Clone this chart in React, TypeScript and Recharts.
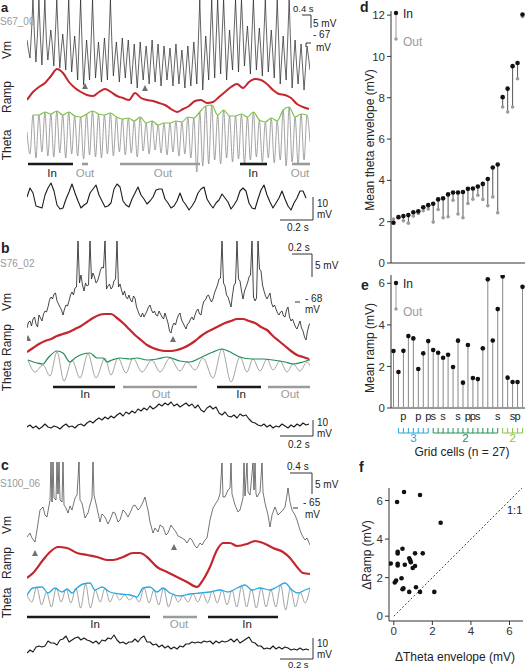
import React from 'react';
import { ComposedChart, ScatterChart, Line, Scatter, Bar, XAxis, YAxis, ReferenceLine } from 'recharts';

const FONT = '"Liberation Sans", Arial, Helvetica, sans-serif';

// ---------- Panel a (time in trace-samples, values in scaled mV) ----------
const vmA = [55,45,
  37,62,95,60, 33,60,95,58, 30,62,95,55, 35,50,65,50, 29,60,95,58,
  27,45,61,44, 25,58,95,55, 23,42,59,40, 15,55,95,50, 10,33,55,35,
  15,52,95,52, 17,36,53,34, 13,35,57,36, 15,55,95,52, 19,37,53,34,
  13,36,57,35, 17,37,55,32, 11,30,51,29, 7,31,53,33, 15,33,49,31,
  11,34,55,32, 13,32,51,30, 9,29,49,32, 15,31,47,29, 9,31,51,30,
  11,28,45,27, 7,29,49,28, 9,31,53,32, 11,52,95,48, 5,33,59,37,
  15,56,95,54, 17,56,95,58, 21,60,95,56, 15,41,65,44, 25,62,95,60,
  23,60,95,62, 29,50,69,46, 21,60,95,58, 25,47,67,45, 19,58,95,56,
  23,44,65,42, 17,56,95,54, 11,36,59,35, 15,54,95,50, 7,32,55,30,
  11,31,51,29, 5,27,49,38, 25];
const thetaA = [40,
  18,57, 14,57, 20,60, 16,58, 15,61, 19,57, 14,60, 18,56, 16,55, 13,58,
  17,61, 15,58, 14,57, 18,59, 16,55, 20,53, 17,54, 19,51, 15,55, 21,49,
  18,51, 22,47, 19,49, 17,49, 20,51, 16,50, 18,55, 14,54, 0,60, 6,66,
  8,67, 12,57, 8,62, 14,56, 10,56, 13,58, 8,55, 12,60, 15,52, 10,50,
  14,54, 9,51, 12,62, 6,65, 10,55, 8,58, 12,57, 30];
const envA = [57,57,60,58,61,57,60,56,55,58,61,58,57,59,55,53,54,51,55,49,51,47,49,49,51,
  50,55,54,60,66,67,57,62,56,56,58,55,60,52,50,54,51,62,65,55,58,57];
const rampA = [20,28,33,37,44,51,47,38,32,28,25,24,28,31,28,24,22,20,27,22,20,19,17,15,11,
  8,11,14,19,20,17,18,23,28,33,36,32,38,41,40,36,30,26,25,22,16,13,11];
const slowA = [17,26,21,8,7,6,19,26,31,23, 9,5,6,15,22,30,21,13,6,9,
  11,21,25,29,19,13,7,8,11,25, 30,27,13,9,7,15,21,27,19,15,
  10,13,17,24,25,25,15,11,6,8, 13,21,13,9,4,8,13,21,25,27,
  15,10,6,11,14,20,16,12,5,9, 14,23,26,23,11,6,5,15,24,29,
  19,12,6,11,16,23,15,8,4,11, 16,23,23,16];
const arrowsA = [[58, 9], [118, 7]];
const fieldsA: [string, number, number][] = [['In', 1, 46], ['Out', 55, 61], ['Out', 93, 173], ['In', 213, 240], ['Out', 265, 283]];

// ---------- Panel b ----------
const vmB = [17,23,24,19,26,28,21,18,30,27,24,31,34,33,38,45,48,46,51,52,
  44,41,38,35,30,36,40,39,44,50,53,50,57,58,104,62,70,60,54,62,
  59,60,104,66,72,68,62,64,69,75,78,77,104,56,59,61,56,58,64,66,
  104,58,61,55,50,54,48,46,50,45,43,49,47,38,34,30,28,32,28,31,
  34,38,40,35,32,34,30,29,34,31,28,26,32,27,22,14,12,19,22,20,
  26,30,32,25,22,19,16,21,22,26,28,25,30,34,36,31,30,39,44,45,
  49,50,46,43,46,52,56,60,66,67,104,62,59,50,48,43,38,50,60,62,
  104,66,64,54,46,54,58,62,68,70,104,48,44,47,104,76,74,60,54,49,
  46,49,52,42,38,40,36,32,30,33,34,29,28,35,38,28,24,26,22,18,
  16,20,24,17,14,8,5,14,20,22,27];
const rampB = [10,14,18,21,23,26,28,30,33,36,40,44,47,48,48,44,39,33,27,22,17,14,12,11,11,
  12,14,17,21,26,30,33,36,39,41,43,43,41,39,35,32,26,21,16,11,7,5,3];
const thetaB = [[1,25],[8,13],[16,20],[23,9],[30,33],[37,4],[45,25],[53,7],[61,31],[69,7],
  [78,27],[84,10],[91,27],[99,12],[106,27],[115,13],[125,25],[133,13],[143,27],[153,14],
  [160,23],[168,15],[176,27],[186,7],[195,36],[204,3],[213,28],[220,13],[226,26],[233,14],
  [240,26],[246,15],[253,24],[260,13],[266,21],[273,14],[280,23],[284,17]];
const envB = [[1,25],[10,22],[16,21],[21,27],[30,34],[36,32],[43,23],[48,27],[56,31],[63,32],
  [70,27],[76,27],[80,23],[85,25],[93,27],[103,26],[110,27],[120,25],[130,26],[140,28],
  [153,24],[163,23],[173,27],[186,33],[195,36],[205,32],[213,28],[225,26],[236,26],[246,25],
  [258,23],[266,21],[276,23],[285,26]];
const slowB = [5,7,4,6,3,5,8,5,4,6,5,3,6,8,5,6,4,7,
  8,6,9,11,9,12,14,12,15,13, 16,14,17,19,16,20,18,21,19,23,
  21,24,22,26,23,25,28,26,29,27, 30,26,28,25,27,29,26,28,24,27,
  22,20,24,26,23,25,19,17,20,16, 15,17,14,18,16,17,13,10,9,7,
  6,8,5,7,4,6,5,8,6,4, 7,5,8,6,9,7,8];
const arrowsB = [[1, 7], [146, 6]];
const fieldsB: [string, number, number][] = [['In', 26, 88], ['Out', 96, 170], ['In', 190, 234], ['Out', 241, 284]];

// ---------- Panel c ----------
const vmC = [[0,23],[3,27],[5,22],[8,18],[10,30],[13,50],[16,53],[18,45],[20,43],[23,60],
  [24,98],[25,58],[26,98],[27,62],[29,60],[30,98],[31,66],[32,98],[33,60],[35,58],
  [36,98],[37,55],[39,52],[41,47],[43,54],[45,50],[48,62],[50,65],[52,98],[53,60],
  [55,57],[58,42],[61,47],[63,55],[65,62],[66,98],[67,65],[70,52],[73,38],[75,46],
  [78,43],[81,36],[83,40],[86,48],[88,47],[91,38],[93,40],[96,50],[98,48],[101,43],
  [103,47],[106,54],[108,55],[111,50],[113,52],[116,58],[118,63],[120,54],[121,50],[123,38],
  [126,27],[128,32],[131,28],[133,35],[136,33],[139,25],[141,27],[144,35],[146,32],[149,28],
  [151,24],[155,22],[158,20],[160,17],[163,22],[165,20],[168,14],[170,12],[173,17],[175,15],
  [178,20],[180,22],[183,40],[186,52],[189,57],[191,60],[193,66],[195,97],[196,63],[198,63],
  [201,70],[203,72],[204,97],[205,66],[208,55],[211,48],[213,50],[216,62],[217,97],[218,64],
  [220,97],[221,68],[223,65],[226,97],[227,70],[228,97],[229,66],[230,63],[233,68],[235,97],
  [236,68],[238,57],[241,45],[243,33],[245,45],[248,53],[251,45],[253,47],[256,50],[258,53],
  [260,65],[261,72],[263,58],[265,50],[268,45],[270,40],[273,30],[275,25],[278,20],[280,22],[283,15]];
const rampC = [[0,14],[6,19],[16,32],[23,40],[31,45],[40,44],[50,39],[60,37],[70,35],[80,32],
  [86,32],[96,35],[106,39],[113,39],[120,35],[130,25],[140,20],[150,15],[160,10],[170,5],
  [176,12],[183,25],[190,42],[196,49],[203,49],[210,46],[220,48],[228,51],[236,49],[246,44],
  [256,40],[263,34],[270,25],[276,19],[283,18]];
const thetaC = [19,12,27,9,22,7,26,12,25,11,26,6,30,6,24,12,26,12,21,14,19,14,18,12,26,11,
  24,9,26,7,20,12,18,12,20,12,21,11,23,11,24,9,24,7,28,7,25,6,26,7,24,7,29,4,26,7,22,11,26];
const envC = [[0,19],[6,26],[15,27],[21,21],[28,26],[35,22],[40,25],[45,21],[50,26],[56,30],
  [63,31],[68,24],[75,27],[83,22],[93,20],[103,19],[110,17],[116,26],[123,27],[130,22],
  [136,26],[143,21],[153,18],[163,20],[173,21],[183,22],[193,24],[201,22],[210,26],[218,29],
  [225,24],[233,26],[243,24],[250,27],[258,31],[265,24],[271,21],[278,24],[283,26]];
const slowC = [5,8,6,11,12,11,12,17,15,15,13,18,19,22,16,18,20,21,18,20,
  18,17,15,17,14,18,17,20,19,23,18,15,16,14,16,16,19,16,20,22,
  16,16,13,14,11,13,10,12,9,11,9,12,11,14,14,16,15,16,15,17,
  16,17,14,17,15,17,16,17,19,16,19,15,17,19,21,16,15,12,12,9,
  10,9,12,9,11,9,11,10,8,9,8,10,8,9,8];
const arrowsC = [[8, 7], [147, 13]];
const fieldsC: [string, number, number][] = [['In', 0, 123], ['Out', 136, 170], ['In', 181, 251]];

// ---------- Panels d, e, f (27 grid cells) ----------
const cellIds = Array.from({ length: 27 }, (_, i) => i);
const dIn = [1.95,2.22,2.27,2.32,2.46,2.5,2.7,2.8,2.87,3.08,3.13,3.32,3.41,3.41,3.44,3.59,3.61,3.7,3.83,4.07,4.62,4.77,8.03,8.44,9.53,9.68,12.03];
const dOut = [2.13,2.2,2.04,1.93,2.27,2.4,2.53,2.61,1.98,2.59,2.19,2.24,3.04,2.37,2.19,2.88,3.09,3.28,3.08,2.77,3.2,2.43,7.55,7.31,7.55,8.92,11.93];
const eIn = [2.74,1.73,2.75,3.46,3.35,1.88,2.63,3.22,2.79,2.66,2.42,2.56,1.97,3.24,1.22,3.03,1.44,1.39,2.87,6.19,3.25,4.76,6.33,1.46,1.25,1.25,5.83];
const eOut = [0,0,0,0,0,0,0,0,0,0,0,0,0,0,0,0,0,0,0,0,0,0,0,0,0,0,0];
const cellLetters = ['','','p','','','p','','p','s','','s','','','s','','p','p','s','','','','s','','','s','p',''];
const cellModule = [0,1,1,1,1,1,1,1,2,2,2,2,2,2,2,2,2,2,2,2,2,2,3,3,3,3,3];
const moduleLabels = ['', '3', '2', '2'];
const fDTheta = [-0.16,0.05,0.2,0.45,0.2,0.12,0.2,0.2,0.88,0.57,0.98,1.1,0.4,1.1,1.36,0.8,0.5,0.45,0.85,1.36,1.5,2.43,0.53,1.15,2.1,0.8,0.17];
const fDRamp = [2.73,1.75,2.72,3.5,3.34,1.85,2.63,3.25,2.8,2.67,2.5,2.6,1.97,3.26,1.26,3.0,1.44,1.4,2.9,6.29,3.26,4.85,6.44,1.5,1.26,1.26,5.92];

// ---------- helpers ----------
const uniform = (vals: number[], t0: number, t1: number) =>
  vals.map((v, i) => ({ t: t0 + ((t1 - t0) * i) / (vals.length - 1), v }));
const pairs = (p: number[][]) => p.map(([t, v]) => ({ t, v }));

const RED = '#c4262e';
const GRAY = '#8c8c8c';
const OUTGRAY = '#9b9b9b';
const MOD_COLORS = ['#000', '#27a3d9', '#1f8f55', '#86c440'];

type S = { data: { t: number; v: number }[]; color: string; w: number; curve?: any };

function TraceBox({ top, height, yMax, series, arrows }: { top: number; height: number; yMax: number; series: S[]; arrows?: number[][] }) {
  return (
    <div style={{ position: 'absolute', left: 27, top, width: 283, height }}>
      <ComposedChart width={283} height={height} margin={{ top: 0, right: 0, bottom: 0, left: 0 }}>
        <XAxis type="number" dataKey="t" domain={[0, 283]} hide allowDataOverflow />
        <YAxis type="number" dataKey="v" domain={[0, yMax]} hide allowDataOverflow />
        {series.map((s, i) => (
          <Line key={i} data={s.data} dataKey="v" type={s.curve || 'linear'} stroke={s.color} strokeWidth={s.w}
            dot={false} activeDot={false} isAnimationActive={false} strokeLinejoin="round" />
        ))}
        {arrows && (
          <Scatter data={pairs(arrows)} dataKey="v" isAnimationActive={false}
            shape={(p: any) => <polygon points={`${p.cx},${p.cy - 3} ${p.cx - 3},${p.cy + 3} ${p.cx + 3},${p.cy + 3}`} fill="#707070" />} />
        )}
      </ComposedChart>
    </div>
  );
}

function FieldBars({ top, fields }: { top: number; fields: [string, number, number][] }) {
  return (
    <div style={{ position: 'absolute', left: 27, top, width: 283, height: 6 }}>
      <ComposedChart width={283} height={6} margin={{ top: 0, right: 0, bottom: 0, left: 0 }}>
        <XAxis type="number" dataKey="t" domain={[0, 283]} hide allowDataOverflow />
        <YAxis type="number" dataKey="v" domain={[-1, 1]} hide />
        {fields.map((f, i) => (
          <Line key={i} data={[{ t: f[1], v: 0 }, { t: f[2], v: 0 }]} dataKey="v" stroke={f[0] === 'In' ? '#1a1a1a' : OUTGRAY}
            strokeWidth={2.6} dot={false} activeDot={false} isAnimationActive={false} strokeLinecap="butt" />
        ))}
      </ComposedChart>
    </div>
  );
}

const dotShape = (r: number, fill: string) => (p: any) => <circle cx={p.cx} cy={p.cy} r={r} fill={fill} />;

function CellTick(props: any) {
  const { x, y, payload } = props;
  const i = payload.value as number;
  const half = 2.48;
  const m = cellModule[i];
  const els: any[] = [];
  if (cellLetters[i]) {
    els.push(<text key="l" x={x} y={y + 12} textAnchor="middle" fontSize={11} fontFamily={FONT} fill="#222">{cellLetters[i]}</text>);
  }
  if (m) {
    const col = MOD_COLORS[m];
    const first = cellModule[i - 1] !== m;
    const last = cellModule[i + 1] !== m;
    els.push(<line key="h" x1={first ? x : x - half} x2={last ? x : x + half} y1={y + 25} y2={y + 25} stroke={col} strokeWidth={1} />);
    els.push(<line key="v" x1={x} x2={x} y1={y + 20} y2={y + 25} stroke={col} strokeWidth={1} />);
    const members = cellModule.map((mm, j) => (mm === m ? j : -1)).filter((j) => j >= 0);
    const mid = (members.length - 1) / 2;
    const midIdx = members[Math.floor(mid)];
    if (i === midIdx) {
      const dx = mid % 1 ? half : 0;
      els.push(<text key="m" x={x + dx} y={y + 34} textAnchor="middle" fontSize={11.5} fontFamily={FONT} fill={col}>{moduleLabels[m]}</text>);
    }
  }
  return <g>{els}</g>;
}

const axisStyle = { stroke: '#333', strokeWidth: 1 };
const tickStyle = { fontSize: 11.5, fill: '#333', fontFamily: FONT };

export default function App() {
  const dData = cellIds.map((c, i) => ({ c, inV: dIn[i], outV: dOut[i], range: [Math.min(dIn[i], dOut[i]), Math.max(dIn[i], dOut[i])] }));
  const eData = cellIds.map((c, i) => ({ c, inV: eIn[i], outV: eOut[i], range: [eOut[i], eIn[i]] }));
  const fData = cellIds.map((c, i) => ({ x: fDTheta[i], y: fDRamp[i] }));

  const T = (p: any) => <text fontFamily={FONT} fill="#222" {...p} />;
  const rot = (x: number, y: number, s: string, fs = 12) => (
    <text x={x} y={y} transform={`rotate(-90 ${x} ${y})`} textAnchor="middle" fontSize={fs} fontFamily={FONT} fill="#222">{s}</text>
  );
  const L = (x1: number, y1: number, x2: number, y2: number, c = '#333') => <line x1={x1} y1={y1} x2={x2} y2={y2} stroke={c} strokeWidth={1} />;

  return (
    <div style={{ position: 'fixed', left: 0, top: 0, width: 526, height: 670, background: '#fff', overflow: 'hidden', fontFamily: FONT }}>
      {/* Panel a */}
      <TraceBox top={0} height={95} yMax={95} series={[{ data: uniform(vmA, 0, 283), color: '#222', w: 0.7 }]} arrows={arrowsA} />
      <TraceBox top={60} height={60} yMax={60} series={[{ data: uniform(rampA, 0, 282), color: RED, w: 2, curve: 'monotone' }]} />
      <TraceBox top={100} height={72} yMax={72} series={[
        { data: uniform(thetaA, 0, 283), color: GRAY, w: 0.8, curve: 'monotone' },
        { data: uniform(envA, 6, 280), color: '#7dc243', w: 1.2, curve: 'monotone' }]} />
      <FieldBars top={161} fields={fieldsA} />
      <TraceBox top={176} height={38} yMax={38} series={[{ data: uniform(slowA, 0, 279), color: '#1a1a1a', w: 1.1 }]} />

      {/* Panel b */}
      <TraceBox top={240} height={105} yMax={105} series={[{ data: uniform(vmB, 0, 285), color: '#1a1a1a', w: 0.8 }]} arrows={arrowsB} />
      <TraceBox top={310} height={52} yMax={52} series={[{ data: uniform(rampB, 0, 282), color: RED, w: 2.2, curve: 'monotone' }]} />
      <TraceBox top={345} height={40} yMax={40} series={[
        { data: pairs(thetaB), color: GRAY, w: 0.8, curve: 'monotone' },
        { data: pairs(envB), color: '#1f8f55', w: 1.2, curve: 'monotone' }]} />
      <FieldBars top={384} fields={fieldsB} />
      <TraceBox top={398} height={34} yMax={34} series={[{ data: uniform(slowB, 0, 282), color: '#1a1a1a', w: 1.1 }]} />

      {/* Panel c */}
      <TraceBox top={460} height={100} yMax={100} series={[{ data: pairs(vmC), color: '#1a1a1a', w: 0.6 }]} arrows={arrowsC} />
      <TraceBox top={535} height={57} yMax={57} series={[{ data: pairs(rampC), color: RED, w: 2.2, curve: 'monotone' }]} />
      <TraceBox top={580} height={34} yMax={34} series={[
        { data: uniform(thetaC, 0, 283), color: GRAY, w: 0.8, curve: 'monotone' },
        { data: pairs(envC), color: '#27aae1', w: 1.3, curve: 'monotone' }]} />
      <FieldBars top={614} fields={fieldsC} />
      <TraceBox top={630} height={28} yMax={28} series={[{ data: uniform(slowC, 0, 282), color: '#1a1a1a', w: 1.1 }]} />

      {/* Panel d */}
      <div style={{ position: 'absolute', left: 355, top: 0 }}>
        <ComposedChart width={171} height={280} data={dData} margin={{ top: 11, right: 1, bottom: 0, left: 0 }}>
          <XAxis dataKey="c" type="category" tick={false} tickLine={false} axisLine={axisStyle} height={17} />
          <YAxis type="number" domain={[0, 12.2]} ticks={[0, 2, 4, 6, 8, 10, 12]} width={36} tickSize={4} tickMargin={2}
            tick={tickStyle} axisLine={axisStyle} tickLine={axisStyle} allowDataOverflow />
          <Bar dataKey="range" barSize={1} fill="#555" isAnimationActive={false} />
          <Scatter dataKey="outV" isAnimationActive={false} shape={dotShape(1.8, OUTGRAY)} />
          <Scatter dataKey="inV" isAnimationActive={false} shape={dotShape(2.3, '#111')} />
        </ComposedChart>
      </div>

      {/* Panel e */}
      <div style={{ position: 'absolute', left: 355, top: 270 }}>
        <ComposedChart width={171} height={200} data={eData} margin={{ top: 5, right: 1, bottom: 0, left: 0 }}>
          <XAxis dataKey="c" type="category" interval={0} tick={<CellTick />} tickLine={false} tickSize={0} tickMargin={0}
            axisLine={axisStyle} height={62} />
          <YAxis type="number" domain={[0, 6.4]} ticks={[0, 2, 4, 6]} width={36} tickSize={4} tickMargin={2}
            tick={tickStyle} axisLine={axisStyle} tickLine={axisStyle} allowDataOverflow />
          <Bar dataKey="range" barSize={1} fill="#888" isAnimationActive={false} />
          <Scatter dataKey="outV" isAnimationActive={false} shape={dotShape(1.6, OUTGRAY)} />
          <Scatter dataKey="inV" isAnimationActive={false} shape={dotShape(2.3, '#111')} />
        </ComposedChart>
      </div>

      {/* Panel f */}
      <div style={{ position: 'absolute', left: 355, top: 470 }}>
        <ScatterChart width={171} height={200} margin={{ top: 18, right: 3, bottom: 0, left: 0 }}>
          <XAxis type="number" dataKey="x" domain={[-0.25, 6.7]} ticks={[0, 2, 4, 6]} height={49} tickSize={4} tickMargin={2}
            tick={tickStyle} axisLine={axisStyle} tickLine={axisStyle} allowDataOverflow />
          <YAxis type="number" dataKey="y" domain={[-0.25, 6.65]} ticks={[0, 2, 4, 6]} width={34} tickSize={4} tickMargin={2}
            tick={tickStyle} axisLine={axisStyle} tickLine={axisStyle} allowDataOverflow />
          <ReferenceLine segment={[{ x: 0, y: 0 }, { x: 6.65, y: 6.65 }]} stroke="#333" strokeWidth={0.9} strokeDasharray="2 2" />
          <Scatter data={fData} isAnimationActive={false} shape={dotShape(2.3, '#111')} />
        </ScatterChart>
      </div>

      {/* Text & annotation overlay */}
      <svg width={526} height={670} style={{ position: 'absolute', left: 0, top: 0, pointerEvents: 'none' }}>
        {/* panel a */}
        <T x={1} y={12} fontSize={13} fontWeight="bold">a</T>
        <T x={0} y={25} fontSize={10} fill="#999">S67_00</T>
        {rot(11, 50, 'Vm')}{rot(11, 97, 'Ramp')}{rot(11, 145, 'Theta')}
        <T x={52} y={177} fontSize={11.5} textAnchor="middle">In</T>
        <T x={85} y={177} fontSize={11.5} textAnchor="middle" fill={OUTGRAY}>Out</T>
        <T x={163} y={177} fontSize={11.5} textAnchor="middle" fill={OUTGRAY}>Out</T>
        <T x={253} y={177} fontSize={11.5} textAnchor="middle">In</T>
        <T x={300} y={177} fontSize={11.5} textAnchor="middle" fill={OUTGRAY}>Out</T>
        <T x={293} y={12} fontSize={9.5}>0.4 s</T>
        {L(302, 15, 311, 15)}{L(311, 15, 311, 28)}
        <T x={313} y={27} fontSize={10}>5 mV</T>
        <T x={313} y={38} fontSize={10}>- 67</T>
        {L(306, 43, 311, 43)}{L(306, 43, 306, 47)}
        <T x={316} y={51} fontSize={10}>mV</T>
        {L(313, 197, 313, 220)}{L(280, 220, 313, 220)}
        <T x={317} y={207} fontSize={10}>10</T>
        <T x={317} y={218} fontSize={10}>mV</T>
        <T x={287} y={231} fontSize={10}>0.2 s</T>

        {/* panel b */}
        <T x={1} y={253} fontSize={14} fontWeight="bold">b</T>
        <T x={0} y={267} fontSize={10} fill="#999">S76_02</T>
        {rot(11, 302, 'Vm')}{rot(11, 340, 'Ramp')}{rot(11, 376, 'Theta')}
        <T x={85} y={398} fontSize={11.5} textAnchor="middle">In</T>
        <T x={161} y={398} fontSize={11.5} textAnchor="middle" fill={OUTGRAY}>Out</T>
        <T x={241} y={398} fontSize={11.5} textAnchor="middle">In</T>
        <T x={290} y={398} fontSize={11.5} textAnchor="middle" fill={OUTGRAY}>Out</T>
        <T x={288} y={251} fontSize={10}>0.2 s</T>
        {L(292, 254, 312, 254)}{L(312, 254, 312, 277)}
        <T x={315} y={269} fontSize={10}>5 mV</T>
        {L(295, 302, 300, 302)}
        <T x={305} y={302} fontSize={10}>- 68</T>
        <T x={305} y={313} fontSize={10}>mV</T>
        {L(313, 420, 313, 436)}{L(280, 436, 313, 436)}
        <T x={317} y={426} fontSize={10}>10</T>
        <T x={317} y={437} fontSize={10}>mV</T>
        <T x={288} y={448} fontSize={10}>0.2 s</T>

        {/* panel c */}
        <T x={1} y={470} fontSize={14} fontWeight="bold">c</T>
        <T x={0} y={487} fontSize={10} fill="#999">S100_06</T>
        {rot(11, 525, 'Vm')}{rot(11, 563, 'Ramp')}{rot(11, 603, 'Theta')}
        <T x={95} y={628} fontSize={11.5} textAnchor="middle">In</T>
        <T x={179} y={628} fontSize={11.5} textAnchor="middle" fill={OUTGRAY}>Out</T>
        <T x={247} y={628} fontSize={11.5} textAnchor="middle">In</T>
        <T x={287} y={470} fontSize={10}>0.4 s</T>
        {L(290, 473, 312, 473)}{L(312, 473, 312, 494)}
        <T x={315} y={488} fontSize={10}>5 mV</T>
        {L(293, 508, 298, 508)}
        <T x={303} y={506} fontSize={10}>- 65</T>
        <T x={305} y={518} fontSize={10}>mV</T>
        {L(313, 638, 313, 659)}{L(280, 659, 313, 659)}
        <T x={317} y={647} fontSize={10}>10</T>
        <T x={317} y={658} fontSize={10}>mV</T>
        <T x={288} y={668} fontSize={9.5}>0.2 s</T>

        {/* panel d */}
        <T x={360} y={12} fontSize={14} fontWeight="bold">d</T>
        {rot(374, 140, 'Mean theta envelope (mV)', 12)}
        <circle cx={396} cy={13} r={2.2} fill="#111" />
        {L(396, 15, 396, 38, '#999')}
        <circle cx={396} cy={39} r={1.7} fill={OUTGRAY} />
        <T x={403} y={18} fontSize={12}>In</T>
        <T x={403} y={46} fontSize={12} fill={OUTGRAY}>Out</T>

        {/* panel e */}
        <T x={361} y={290} fontSize={14} fontWeight="bold">e</T>
        {rot(374, 348, 'Mean ramp (mV)', 12)}
        <circle cx={396} cy={283} r={2.2} fill="#111" />
        {L(396, 285, 396, 308, '#999')}
        <circle cx={396} cy={309} r={1.7} fill={OUTGRAY} />
        <T x={403} y={288} fontSize={12}>In</T>
        <T x={403} y={316} fontSize={12} fill={OUTGRAY}>Out</T>
        <T x={462} y={456} fontSize={12} textAnchor="middle">Grid cells (n = 27)</T>

        {/* panel f */}
        <T x={359} y={472} fontSize={14} fontWeight="bold">f</T>
        {rot(371, 555, 'ΔRamp (mV)', 12)}
        <T x={455} y={661} fontSize={12} textAnchor="middle">ΔTheta envelope (mV)</T>
        <T x={507} y={514} fontSize={11}>1:1</T>
      </svg>
    </div>
  );
}
